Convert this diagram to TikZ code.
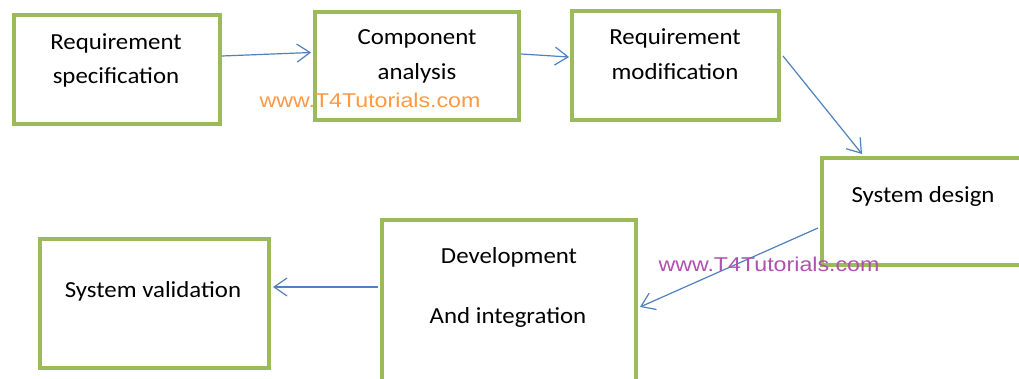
\documentclass[tikz,border=0pt]{standalone}
\usepackage{fontspec}
\setmainfont{Carlito}
\newfontfamily\boxfont[FakeStretch=1.08]{Carlito}
\newfontfamily\wmfont[FakeStretch=1.16]{Liberation Sans}
\usetikzlibrary{arrows.meta}
\definecolor{boxgreen}{HTML}{9BBB59}
\definecolor{arrowblue}{HTML}{4F81BD}
\definecolor{wmorange}{HTML}{FF9944}
\definecolor{wmpurple}{HTML}{B050B0}
\tikzset{
  stagebox/.style={draw=boxgreen, line width=4pt, fill=white, rectangle, inner sep=0pt},
  txt/.style={font=\boxfont\fontsize{23}{28}\selectfont, anchor=base, inner sep=0pt, text=black},
  wm/.style={font=\wmfont\fontsize{20}{24}\selectfont, anchor=base, inner sep=0pt},
  flow/.style={draw=arrowblue, line width=1.2pt, -{Straight Barb[length=13pt,width=18pt,line width=1.2pt]}}
}
\begin{document}
\begin{tikzpicture}[x=1pt,y=-1pt]
\clip (0,0) rectangle (1019,379);
\fill[white] (0,0) rectangle (1019,379);
% boxes
\node[stagebox, minimum width=206pt, minimum height=109pt] (b1) at (117,69.5) {};
\node[stagebox, minimum width=204pt, minimum height=108pt] (b2) at (417,66) {};
\node[stagebox, minimum width=207pt, minimum height=109pt] (b3) at (675.5,65.5) {};
\node[stagebox, minimum width=203pt, minimum height=107pt] (b4) at (923.5,211.5) {};
\node[stagebox, minimum width=254pt, minimum height=165pt] (b5) at (509,302.5) {};
\node[stagebox, minimum width=229pt, minimum height=129pt] (b6) at (154.5,303.5) {};
% texts
\node[txt] (t1a) at (116,50) {Requirement};
\node[txt] (t1b) at (116,84) {specification};
\node[txt] (t2a) at (417,45) {Component};
\node[txt] (t2b) at (417,80) {analysis};
\node[txt] (t3a) at (675,45) {Requirement};
\node[txt] (t3b) at (675,80) {modification};
\node[txt] (t4) at (923,203) {System design};
\node[txt] (t5a) at (509,263) {Development};
\node[txt] (t5b) at (508,323) {And integration};
\node[txt] (t6) at (153,297) {System validation};
% arrows
\draw[flow] ([yshift=13.5pt]b1.east) -- ([xshift=-2pt,yshift=13.5pt]b2.west);
\draw[flow] ([yshift=12pt]b2.east) -- ([xshift=-1pt,yshift=8.5pt]b3.west);
\draw[flow] ([xshift=2pt,yshift=9.5pt]b3.east) -- ([xshift=-61.5pt,yshift=2pt]b4.north);
\draw[flow] ([xshift=-2pt,yshift=-16.5pt]b4.west) -- ([xshift=2pt,yshift=-4.5pt]b5.east);
\draw[flow] ([xshift=-2pt,yshift=15.5pt]b5.west) -- ([xshift=2pt,yshift=16.5pt]b6.east);
% watermarks
\node[wm, text=wmorange] (w1) at (370,108) {www.T4Tutorials.com};
\node[wm, text=wmpurple] (w2) at (769,272) {www.T4Tutorials.com};
\end{tikzpicture}
\end{document}
